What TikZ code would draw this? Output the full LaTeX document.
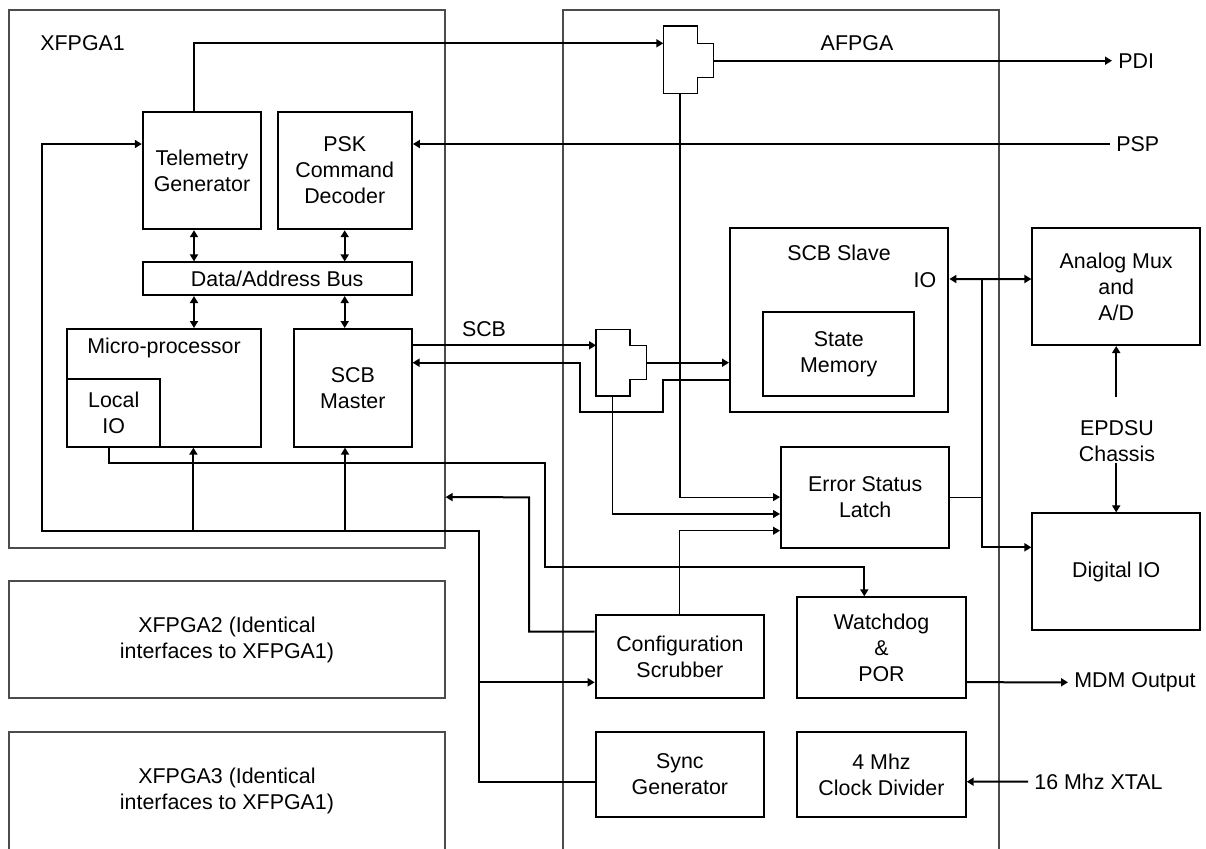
\documentclass[tikz,border=0pt]{standalone}
\usepackage{fontspec}
\setmainfont{Liberation Sans}
\usetikzlibrary{arrows.meta,positioning,calc}

\begin{document}
\begin{tikzpicture}[
    % one unit = one pixel of the sketch, y runs downwards
    x=0.5pt, y=-0.5pt,
    every node/.style={font=\fontsize{10.7}{13}\selectfont},
    chip/.style={rectangle, draw=black!70, line width=0.6pt, inner sep=0pt, align=center},
    blk/.style={rectangle, draw, line width=1pt, inner sep=0pt, align=center},
    lbl/.style={align=center, inner sep=0pt},
    port/.style={anchor=west, inner sep=3pt},
    fine/.style={line width=0.55pt},
    mux/.style={line width=0.7pt},
    arr/.style={line width=1pt, -{Triangle[length=3.5pt,width=4pt]}},
    farr/.style={line width=0.55pt, -{Triangle[length=3.5pt,width=4pt]}},
    dbl/.style={line width=1pt, {Triangle[length=3.5pt,width=4pt]}-{Triangle[length=3.5pt,width=4pt]}}
]
    \useasboundingbox (0,0) rectangle (1206,848);

    % --- FPGAs ---
    \node[chip, minimum width=218pt, minimum height=269pt] (xf1) at (227,279) {};
    \node[chip, minimum width=218pt, minimum height=58.5pt] (xf2) at (227,639.5) {XFPGA2 (Identical\\interfaces to XFPGA1)};
    \node[chip, minimum width=218pt, minimum height=59pt] (xf3) at (227,791) {XFPGA3 (Identical\\interfaces to XFPGA1)};
    \node[chip, minimum width=218pt, minimum height=445pt] (af) at (781,455) {};
    \node[lbl, anchor=west] (xf1name) at (40,43) {XFPGA1};
    \node[lbl] (afname) at (857,43) {AFPGA};

    % --- XFPGA1 blocks ---
    \node[blk, minimum width=59.2pt, minimum height=58.7pt] (tel) at (202,170.5) {Telemetry\\Generator};
    \node[blk, minimum width=67.2pt, minimum height=58.7pt] (psk) at (344.7,170.5) {PSK\\Command\\Decoder};
    \node[blk, minimum width=134.5pt, minimum height=16.3pt] (bus) at (277.2,278.7) {Data/Address Bus};
    \node[blk, minimum width=96.7pt, minimum height=58.8pt] (mp) at (164,387.8) {};
    \node[lbl] (mpname) at (164,348) {Micro-processor};
    \node[blk, minimum width=46.3pt, minimum height=33.7pt] (lio) at (113.7,413) {Local\\IO};
    \node[blk, minimum width=58.8pt, minimum height=58.8pt] (scbm) at (352.8,387.8) {SCB\\Master};

    % --- AFPGA blocks ---
    \node[blk, minimum width=109.2pt, minimum height=92pt] (scbs) at (839.2,320.3) {};
    \node[lbl] (scbsname) at (839,253) {SCB Slave};
    \node[lbl] (scbsio) at (925,280) {IO};
    \node[blk, minimum width=75.5pt, minimum height=41.8pt] (sm) at (838.8,354.2) {State\\Memory};
    \node[blk, minimum width=84.2pt, minimum height=50.4pt] (esl) at (865.2,497.1) {Error Status\\Latch};
    \node[blk, minimum width=84.2pt, minimum height=50.5pt] (wdog) at (881.5,647.8) {Watchdog\\\&\\POR};
    \node[blk, minimum width=84.2pt, minimum height=41.7pt] (cfg) at (679.9,656.7) {Configuration\\Scrubber};
    \node[blk, minimum width=84.2pt, minimum height=42.2pt] (sync) at (679.9,774.5) {Sync\\Generator};
    \node[blk, minimum width=84.2pt, minimum height=42.2pt] (clk) at (881.5,774.5) {4 Mhz\\Clock Divider};

    % --- chassis side ---
    \node[blk, minimum width=83.8pt, minimum height=58.3pt] (amux) at (1116.2,286.7) {Analog Mux\\and\\A/D};
    \node[blk, minimum width=83.8pt, minimum height=58.3pt] (dio) at (1116.2,571.7) {Digital IO};
    \node[lbl] (epdsu) at (1117,441.5) {EPDSU\\Chassis};

    % --- outside signals ---
    \node[port] (pdi) at (1112,60.7) {PDI};
    \node[port] (psp) at (1110,144) {PSP};
    \node[port] (mdm) at (1068,682.3) {MDM Output};
    \node[port] (xtal) at (1028,781.7) {16 Mhz XTAL};
    \node[lbl] (scblbl) at (484,329) {SCB};

    % --- muxes ---
    \draw[mux] (663.3,26) -- ++(34.4,0) -- ++(0,17.3) -- ++(15.6,0) -- ++(0,34) -- ++(-15.6,0) -- ++(0,16) -- ++(-34.4,0) -- cycle;
    \coordinate (mxa-in) at (663.3,43.3);
    \coordinate (mxa-out) at (713.3,60.7);
    \coordinate (mxa-bot) at (680,93.3);
    \draw[mux] (596,329.3) -- ++(34,0) -- ++(0,16) -- ++(16.7,0) -- ++(0,34) -- ++(-16.7,0) -- ++(0,16.7) -- ++(-34,0) -- cycle;
    \coordinate (mxb-in) at (596,345.3);
    \coordinate (mxb-out) at (646.7,362.7);
    \coordinate (mxb-bot) at (612.7,396);

    % --- ports on the blocks ---
    \coordinate (c1) at ([xshift=-4pt]tel.south);
    \coordinate (tel-top) at ([xshift=-4pt]tel.north);
    \coordinate (tel-in) at ([yshift=13.25pt]tel.west);
    \coordinate (psk-in) at ([yshift=13.25pt]psk.east);
    \coordinate (m-tx) at ([yshift=21.25pt]scbm.east);
    \coordinate (m-rx) at ([yshift=12.55pt]scbm.east);
    \coordinate (s-rx) at ([yshift=-21.2pt]scbs.west);
    \coordinate (s-tx) at ([yshift=-29.85pt]scbs.west);
    \coordinate (s-io) at ([yshift=20.65pt]scbs.east);
    \coordinate (a-io) at ([yshift=3.85pt]amux.west);
    \coordinate (d-io) at ([yshift=12.2pt]dio.west);
    \coordinate (iobr) at (981.7,279);
    \coordinate (e-in2) at ([yshift=-8.45pt]esl.west);
    \coordinate (e-in3) at ([yshift=-16.8pt]esl.west);
    \coordinate (l-out) at ([xshift=-2.2pt]lio.south);
    \coordinate (w-in) at ([xshift=-8.6pt]wdog.north);
    \coordinate (w-out) at ([yshift=-17.2pt]wdog.east);
    \coordinate (k-in) at ([yshift=-3.6pt]clk.east);
    \coordinate (s-out) at ([yshift=-3.6pt]sync.west);
    \coordinate (c-in) at ([yshift=-12.8pt]cfg.west);
    \coordinate (c-out) at ([yshift=12.5pt]cfg.west);
    \coordinate (mp-in) at ([xshift=14.7pt]mp.south);
    \coordinate (m-in) at ([xshift=-3.9pt]scbm.south);
    \coordinate (loopr) at (479,530.7);
    \coordinate (loopl) at (42.3,530.7);
    \coordinate (cbend) at (529,497.3);
    \coordinate (xf1-in) at (xf1.east |- esl.west);
    \coordinate (ep-up) at (1116.2,396.7);
    \coordinate (ep-dn) at (1116.2,463.3);

    % --- telemetry, commands ---
    \draw[arr] (tel-top) |- (mxa-in);
    \draw[arr] (mxa-out) -- (pdi.west);
    \draw[arr] (psp.west) -- (psk-in);

    % --- bus ---
    \draw[dbl] (c1) -- (c1 |- bus.north);
    \draw[dbl] (psk.south) -- (psk.south |- bus.north);
    \draw[dbl] (c1 |- bus.south) -- (c1 |- mp.north);
    \draw[dbl] (psk.south |- bus.south) -- (psk.south |- scbm.north);

    % --- SCB ---
    \draw[arr] (m-tx) -- (mxb-in);
    \draw[arr] (mxb-out) -- (s-rx);
    \draw[arr] (s-tx) -| (663.3,412.3) -| (580,362.7) -- (m-rx);
    \draw[dbl] (s-io) -- (a-io);
    \draw[arr] (iobr) |- (d-io);
    \draw[fine] (esl.east) -- (esl.east -| iobr);

    % --- error status latch ---
    \draw[farr] (mxa-bot) |- (esl.west);
    \draw[farr] (mxb-bot) |- (e-in2);
    \draw[farr] (cfg.north) |- (e-in3);

    % --- local IO to watchdog ---
    \draw[arr] (l-out) |- (545,463.3) -- (545,567.3) -| (w-in);

    % --- sync distribution ---
    \draw[arr] (s-out) -| (loopr) -- (loopl) |- (tel-in);
    \draw[arr] (mp-in |- loopl) -- (mp-in);
    \draw[arr] (m-in |- loopl) -- (m-in);
    \draw[arr] (loopr |- c-in) -- (c-in);

    % --- scrubber ---
    \draw[arr] (c-out) -| (cbend) -- (xf1-in);

    % --- outputs ---
    \draw[arr] (w-out) -- (mdm.west);
    \draw[arr] (xtal.west) -- (k-in);
    \draw[arr] (ep-up) -- (amux.south);
    \draw[arr] (ep-dn) -- (dio.north);
\end{tikzpicture}
\end{document}
